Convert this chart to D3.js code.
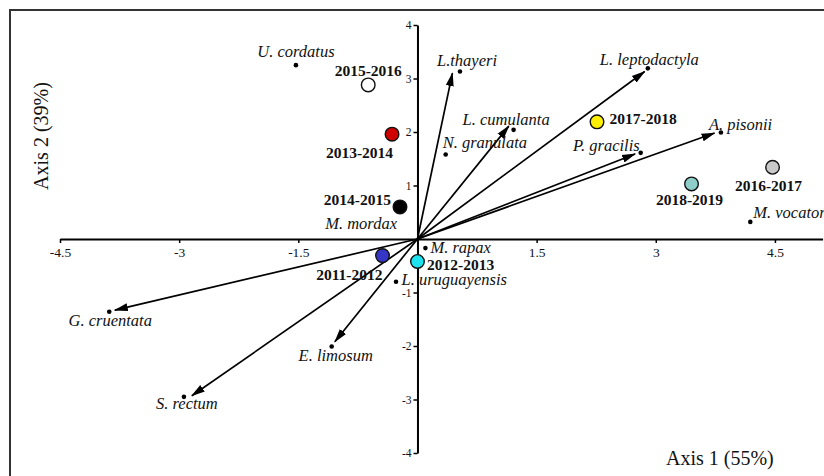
<!DOCTYPE html>
<html>
<head>
<meta charset="utf-8">
<script src="https://cdn.jsdelivr.net/npm/d3@7"></script>
<style>
  html, body { margin: 0; padding: 0; background: #fff; }
  svg { display: block; }
  text { font-family: "Liberation Serif", "Times New Roman", serif; fill: #111; }
</style>
</head>
<body>
<svg id="chart" width="824" height="476"></svg>
<script>
// Species scores on the two ordination axes
const speciesNames = ["U. cordatus", "L.thayeri", "L. leptodactyla", "L. cumulanta", "N. granulata",
  "P. gracilis", "A. pisonii", "M. vocator", "M. rapax", "L. uruguayensis", "G. cruentata",
  "S. rectum", "E. limosum", "M. mordax"];
const speciesAxis1 = [-1.53, 0.535, 2.90, 1.21, 0.355, 2.81, 3.82, 4.19, 0.10, -0.27, -3.88, -2.94, -1.08, -0.22];
const speciesAxis2 = [3.25, 3.13, 3.19, 2.04, 1.58, 1.61, 1.99, 0.32, -0.17, -0.80, -1.36, -2.95, -2.01, 0.60];

// Species vectors (arrows drawn from the origin)
const vectorNames = ["L.thayeri", "L. leptodactyla", "L. cumulanta", "P. gracilis", "A. pisonii",
  "G. cruentata", "S. rectum", "E. limosum"];
const vectorAxis1 = [0.44, 2.86, 1.15, 2.74, 3.74, -3.81, -2.84, -1.04];
const vectorAxis2 = [3.10, 3.13, 2.11, 1.59, 1.98, -1.33, -2.93, -1.92];

// Sampling years
const siteYears = ["2011-2012", "2012-2013", "2013-2014", "2014-2015", "2015-2016", "2016-2017", "2017-2018", "2018-2019"];
const siteAxis1 = [-0.44, 0.00, -0.32, -0.22, -0.62, 4.47, 2.26, 3.45];
const siteAxis2 = [-0.31, -0.42, 1.96, 0.60, 2.88, 1.34, 2.19, 1.03];

// Axis ticks and titles
const xTicks = [-4.5, -3, -1.5, 1.5, 3, 4.5];
const yTicks = [4, 3, 2, 1, -1, -2, -3, -4];
const xTitle = "Axis 1 (55%)";
const yTitle = "Axis 2 (39%)";

// ---- styling / layout ----
const siteFill = {
  "2011-2012": "#3535c6", "2012-2013": "#1ee3ee", "2013-2014": "#cf0000", "2014-2015": "#000000",
  "2015-2016": "#ffffff", "2016-2017": "#c9c9c9", "2017-2018": "#fff000", "2018-2019": "#8ecdc8"
};
// label placement relative to each point: [dx, dy, anchor]
const speciesLabel = {
  "U. cordatus": [0, -8, "middle"], "L.thayeri": [-23, -6, "start"], "L. leptodactyla": [-48, -3, "start"],
  "L. cumulanta": [-51, -5, "start"], "N. granulata": [-3, -6, "start"], "P. gracilis": [-1, -2, "end"],
  "A. pisonii": [-12, -3, "start"], "M. vocator": [3, -3.5, "start"], "M. rapax": [5, 4.5, "start"],
  "L. uruguayensis": [5.5, 3.5, "start"], "G. cruentata": [1, 14, "middle"], "S. rectum": [3, 12.5, "middle"],
  "E. limosum": [4, 14.5, "middle"], "M. mordax": [-3, 22.5, "end"]
};
const siteLabel = {
  "2011-2012": [0, 24.5, "end"], "2012-2013": [9.5, 9, "start"], "2013-2014": [1, 23.5, "end"],
  "2014-2015": [-9, -1.5, "end"], "2015-2016": [0, -9, "middle"], "2016-2017": [-4, 23.5, "middle"],
  "2017-2018": [12.5, 2.5, "start"], "2018-2019": [-2, 21, "middle"]
};

const svg = d3.select("#chart");

const x = d3.scaleLinear().domain([-4.5, 5.1]).range([60, 822.6]);
const y = d3.scaleLinear().domain([-4, 4]).range([453, 25]);

// outer frame
svg.append("path")
  .attr("d", "M10,490 V10 H840")
  .attr("fill", "none").attr("stroke", "#333").attr("stroke-width", 2);

// arrowhead marker
svg.append("defs").append("marker")
  .attr("id", "head")
  .attr("markerUnits", "userSpaceOnUse")
  .attr("viewBox", "0 -5 14 10")
  .attr("refX", 13).attr("refY", 0)
  .attr("markerWidth", 14).attr("markerHeight", 10)
  .attr("orient", "auto")
  .append("path")
  .attr("d", "M0,-4 L14,0 L0,4 Z")
  .attr("fill", "#000");

// axes crossing at the origin
const xAxis = d3.axisBottom(x).tickValues(xTicks).tickSize(4).tickSizeOuter(0).tickPadding(4)
  .tickFormat(d => String(d));
const yAxis = d3.axisLeft(y).tickValues(yTicks).tickSize(4).tickSizeOuter(0).tickPadding(2)
  .tickFormat(d => String(d));

const gx = svg.append("g").attr("transform", `translate(0,${y(0)})`).call(xAxis);
gx.select(".domain").attr("stroke", "#000").attr("stroke-width", 2);
gx.selectAll(".tick line").attr("stroke", "#000").attr("stroke-width", 1.5);
gx.selectAll(".tick text")
  .attr("font-family", "Liberation Serif, serif").attr("font-size", 13.5).attr("fill", "#222")
  .attr("dy", "0.71em");

const gy = svg.append("g").attr("transform", `translate(${x(0)},0)`).call(yAxis);
gy.select(".domain").attr("stroke", "#000").attr("stroke-width", 2);
gy.selectAll(".tick line").attr("stroke", "#000").attr("stroke-width", 1.5);
gy.selectAll(".tick text")
  .attr("font-family", "Liberation Serif, serif").attr("font-size", 11.5).attr("fill", "#222");

// species vectors
svg.append("g").selectAll("line")
  .data(vectorNames)
  .join("line")
  .attr("x1", x(0)).attr("y1", y(0))
  .attr("x2", (d, i) => x(vectorAxis1[i]))
  .attr("y2", (d, i) => y(vectorAxis2[i]))
  .attr("stroke", "#000").attr("stroke-width", 1.7)
  .attr("marker-end", "url(#head)");

// species points
svg.append("g").selectAll("circle")
  .data(speciesNames)
  .join("circle")
  .attr("cx", (d, i) => x(speciesAxis1[i]))
  .attr("cy", (d, i) => y(speciesAxis2[i]))
  .attr("r", 2.3)
  .attr("fill", "#000");

// sampling years
svg.append("g").selectAll("circle")
  .data(siteYears)
  .join("circle")
  .attr("cx", (d, i) => x(siteAxis1[i]))
  .attr("cy", (d, i) => y(siteAxis2[i]))
  .attr("r", 6.8)
  .attr("fill", d => siteFill[d])
  .attr("stroke", "#111").attr("stroke-width", 1.4);

// species labels
svg.append("g").selectAll("text")
  .data(speciesNames)
  .join("text")
  .attr("x", (d, i) => x(speciesAxis1[i]) + speciesLabel[d][0])
  .attr("y", (d, i) => y(speciesAxis2[i]) + speciesLabel[d][1])
  .attr("text-anchor", d => speciesLabel[d][2])
  .attr("font-style", "italic")
  .attr("font-size", 16.5)
  .attr("fill", "#222")
  .text(d => d);

// year labels
svg.append("g").selectAll("text")
  .data(siteYears)
  .join("text")
  .attr("x", (d, i) => x(siteAxis1[i]) + siteLabel[d][0])
  .attr("y", (d, i) => y(siteAxis2[i]) + siteLabel[d][1])
  .attr("text-anchor", d => siteLabel[d][2])
  .attr("font-weight", "bold")
  .attr("font-size", 15.5)
  .attr("fill", "#111")
  .text(d => d);

// axis titles
svg.append("text")
  .attr("x", 666).attr("y", 465)
  .attr("font-size", 20).attr("fill", "#222")
  .text(xTitle);

svg.append("text")
  .attr("transform", "translate(48,136) rotate(-90)")
  .attr("text-anchor", "middle")
  .attr("font-size", 20).attr("fill", "#222")
  .text(yTitle);
</script>
</body>
</html>
